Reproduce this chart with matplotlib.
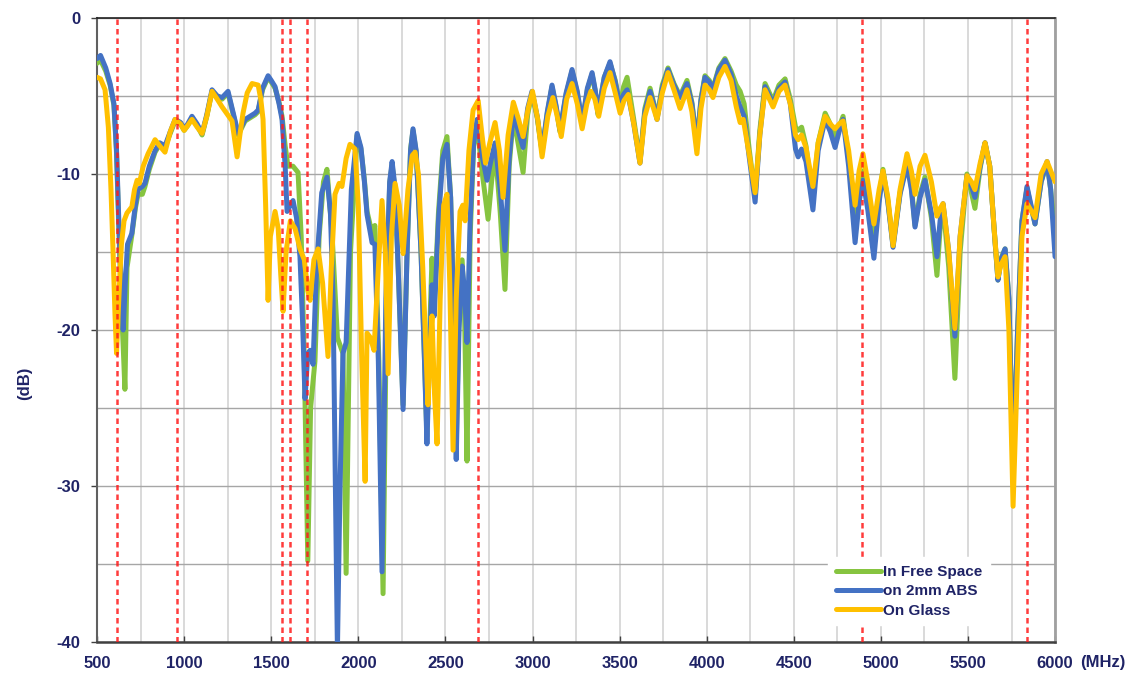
import matplotlib
matplotlib.use("Agg")
import matplotlib.pyplot as plt

plt.rcParams['font.family'] = ['Liberation Sans', 'DejaVu Sans']
plt.rcParams['axes.unicode_minus'] = False

# on 2mm ABS (blue)
f_abs = [500, 520, 550, 575, 597, 612, 625, 640, 650, 662, 675, 700, 720, 735, 760, 775, 800, 833, 860, 890,
         920, 948, 980, 1000, 1020, 1045, 1075, 1103, 1130, 1160, 1190, 1218, 1252, 1280, 1310, 1350, 1407, 1425, 1450, 1482,
         1500, 1522, 1545, 1562, 1580, 1591, 1610, 1625, 1645, 1665, 1680, 1694, 1710, 1723, 1740, 1760, 1790, 1820, 1840, 1855,
         1868, 1880, 1895, 1912, 1930, 1960, 1993, 2015, 2035, 2050, 2079, 2095, 2115, 2136, 2158, 2180, 2194, 2212, 2232, 2257,
         2280, 2300, 2314, 2332, 2360, 2380, 2394, 2410, 2423, 2436, 2460, 2485, 2509, 2530, 2550, 2562, 2578, 2596, 2610, 2624,
         2642, 2662, 2682, 2710, 2739, 2760, 2785, 2815, 2842, 2866, 2890, 2920, 2946, 2972, 2997, 3027, 3055, 3085, 3112, 3135,
         3158, 3193, 3227, 3257, 3285, 3315, 3342, 3360, 3376, 3412, 3445, 3475, 3503, 3523, 3543, 3580, 3617, 3645, 3675, 3695,
         3715, 3745, 3778, 3812, 3847, 3887, 3915, 3944, 3967, 3990, 4015, 4036, 4070, 4105, 4140, 4170, 4192, 4215, 4245, 4278,
         4305, 4335, 4360, 4381, 4415, 4450, 4480, 4510, 4525, 4545, 4570, 4610, 4640, 4680, 4710, 4737, 4760, 4783, 4815, 4852,
         4875, 4897, 4925, 4960, 4990, 5012, 5040, 5070, 5110, 5150, 5175, 5196, 5225, 5253, 5290, 5322, 5340, 5357, 5390, 5425,
         5455, 5494, 5520, 5540, 5570, 5598, 5625, 5650, 5672, 5690, 5713, 5735, 5759, 5785, 5810, 5839, 5860, 5885, 5920, 5954,
         5975, 6000]
db_abs = [-2.6, -2.4, -3.2, -4.2, -5.5, -8.5, -13, -17.5, -20.0, -17, -14.5, -13.8, -12, -11.0, -10.8, -10.6, -9.5, -8.5, -8.0, -8.2,
          -7.3, -6.5, -6.7, -7.1, -6.8, -6.3, -6.8, -7.4, -6.2, -4.6, -5.0, -5.1, -4.7, -6.0, -7.4, -6.5, -6.1, -5.9, -4.5, -3.7,
          -4.0, -4.4, -5.5, -6.5, -9.5, -12.4, -12.0, -11.7, -12.8, -15.3, -19.5, -24.4, -21.5, -21.3, -22.2, -16, -11.2, -10.2, -12.5, -18,
          -30, -40.5, -30, -21.5, -20.8, -11, -7.4, -8.3, -10.5, -12.6, -14.4, -14.5, -22, -35.5, -18, -10.5, -9.2, -11, -17, -25.1,
          -15, -8.5, -7.1, -8.5, -15, -22, -27.3, -21, -17.1, -19.1, -13, -9, -8.1, -11.5, -20, -28.3, -20, -15.9, -17.5, -20.8,
          -13, -8, -6.5, -8.8, -10.4, -9.2, -8.0, -11, -14.9, -9, -6.1, -7.3, -8.3, -5.8, -4.7, -6.3, -8.5, -6, -4.3, -5.6,
          -7.2, -4.8, -3.3, -4.7, -6.7, -4.5, -3.5, -4.6, -6.1, -3.8, -2.8, -4.1, -5.7, -4.9, -4.6, -6.7, -9.3, -6.0, -4.7, -5.5,
          -6.5, -4.5, -3.3, -4.3, -5.1, -4.2, -5.5, -8.1, -5.3, -3.8, -4.1, -4.6, -3.3, -2.7, -3.6, -5.0, -5.7, -6.3, -9, -11.8,
          -7.5, -4.4, -5.0, -5.5, -4.5, -4.1, -5.5, -8.4, -8.9, -8.4, -9.2, -12.3, -8.5, -6.5, -7.3, -8.3, -7.3, -6.5, -9.5, -14.4,
          -11.8, -10.4, -12.3, -15.4, -11.8, -9.9, -11.8, -14.7, -11.3, -9.4, -11.0, -13.4, -11.5, -10.4, -12.5, -15.3, -13.0, -11.9, -15, -20.4,
          -14, -10.1, -10.8, -11.5, -9.5, -8.0, -9.5, -13.5, -16.8, -15.5, -14.8, -18, -29, -20, -13, -10.8, -11.9, -13.2, -10.5, -9.2,
          -11, -15.3]

# In Free Space (green)
f_free = [500, 520, 550, 575, 597, 612, 625, 640, 650, 660, 672, 700, 720, 735, 760, 775, 800, 833, 860, 890,
          920, 948, 980, 1000, 1020, 1045, 1075, 1103, 1130, 1160, 1190, 1218, 1252, 1280, 1310, 1350, 1407, 1425, 1450, 1482,
          1500, 1522, 1545, 1562, 1580, 1596, 1625, 1654, 1672, 1690, 1710, 1726, 1751, 1775, 1800, 1820, 1850, 1880, 1912, 1930,
          1955, 1993, 2015, 2035, 2050, 2079, 2095, 2118, 2142, 2162, 2180, 2194, 2212, 2232, 2257, 2280, 2300, 2314, 2332, 2360,
          2380, 2394, 2410, 2423, 2436, 2460, 2485, 2509, 2530, 2550, 2562, 2578, 2596, 2610, 2624, 2642, 2662, 2682, 2710, 2745,
          2765, 2785, 2815, 2842, 2866, 2890, 2920, 2946, 2972, 2997, 3027, 3055, 3085, 3112, 3135, 3158, 3193, 3227, 3257, 3285,
          3315, 3342, 3360, 3376, 3412, 3445, 3475, 3503, 3523, 3543, 3580, 3617, 3645, 3675, 3695, 3715, 3745, 3778, 3812, 3847,
          3887, 3915, 3944, 3967, 3990, 4015, 4036, 4070, 4105, 4140, 4170, 4192, 4215, 4245, 4278, 4305, 4335, 4360, 4381, 4415,
          4450, 4480, 4510, 4525, 4545, 4570, 4610, 4640, 4680, 4710, 4737, 4760, 4783, 4815, 4852, 4875, 4897, 4925, 4960, 4990,
          5012, 5040, 5070, 5110, 5150, 5175, 5196, 5225, 5253, 5290, 5322, 5340, 5357, 5390, 5425, 5455, 5494, 5520, 5540, 5570,
          5598, 5625, 5650, 5672, 5690, 5713, 5735, 5759, 5785, 5810, 5839, 5860, 5885, 5920, 5954, 5975, 6000]
db_free = [-2.9, -2.7, -3.4, -4.3, -5.6, -8.7, -13.5, -18.5, -21, -23.8, -16, -13.9, -12.2, -11.3, -11.3, -10.8, -9.7, -8.6, -8.1, -8.3,
           -7.4, -6.6, -6.8, -7.2, -6.9, -6.4, -6.9, -7.5, -6.3, -4.7, -5.0, -5.2, -4.8, -6.1, -7.5, -6.6, -6.2, -6.0, -4.6, -3.8,
           -4.1, -4.5, -5.4, -6.3, -8.2, -9.5, -9.5, -9.9, -14, -22, -34.8, -25, -22.0, -14, -10.5, -9.7, -14, -20.5, -21.5, -35.6,
           -15, -7.5, -8.4, -10.4, -12.4, -13.8, -13.3, -22, -36.9, -18, -10.6, -9.4, -11.2, -17, -24.8, -15, -8.4, -7.2, -8.6, -15,
           -22, -26.8, -20, -15.4, -18.5, -12.5, -8.5, -7.6, -11.5, -20, -27.5, -19, -15.5, -19, -28.4, -14, -8.2, -6.8, -9.8, -12.9,
           -10.5, -8.3, -12.5, -17.4, -9.5, -6.3, -8.2, -9.9, -6.2, -4.8, -6.4, -8.6, -6.1, -4.4, -5.7, -7.3, -4.9, -3.4, -4.8, -6.8,
           -4.6, -3.6, -4.7, -6.2, -3.8, -2.9, -4.0, -5.6, -4.4, -3.8, -6.4, -9.2, -5.8, -4.5, -5.4, -6.4, -4.3, -3.2, -4.2, -5.0,
           -4.0, -5.4, -8.0, -5.2, -3.7, -4.0, -4.5, -3.2, -2.6, -3.4, -4.3, -4.7, -5.5, -8.5, -11.4, -7.2, -4.2, -4.8, -5.3, -4.3,
           -3.9, -5.2, -7.0, -7.2, -7.0, -8.2, -11.5, -8.0, -6.1, -6.8, -7.8, -7.0, -6.3, -9.0, -13.0, -11.0, -9.8, -11.8, -14.6, -11.5,
           -9.7, -11.7, -14.6, -11.2, -9.2, -10.8, -13.3, -11.3, -10.2, -12.8, -16.5, -13.5, -12.0, -16, -23.1, -15, -10.0, -11.2, -12.2, -9.6,
           -8.0, -9.5, -13.5, -16.8, -15.4, -14.8, -18, -28.5, -20, -13, -10.9, -12.0, -13.2, -10.5, -9.3, -11, -14.0]

# On Glass (yellow)
f_glass = [500, 520, 546, 565, 580, 592, 603, 612, 625, 640, 655, 672, 700, 715, 730, 743, 765, 793, 833, 860,
           890, 920, 948, 980, 1000, 1020, 1045, 1075, 1103, 1130, 1160, 1190, 1218, 1250, 1275, 1304, 1320, 1338, 1362, 1390,
           1425, 1440, 1453, 1468, 1482, 1495, 1522, 1540, 1555, 1568, 1585, 1610, 1637, 1665, 1690, 1710, 1723, 1745, 1769, 1795,
           1826, 1845, 1866, 1890, 1906, 1930, 1952, 1981, 2000, 2020, 2039, 2050, 2070, 2090, 2115, 2136, 2155, 2171, 2190, 2211,
           2235, 2257, 2285, 2310, 2326, 2345, 2370, 2400, 2412, 2423, 2437, 2452, 2470, 2490, 2509, 2525, 2544, 2562, 2584, 2600,
           2613, 2635, 2659, 2688, 2710, 2730, 2755, 2785, 2810, 2831, 2860, 2890, 2920, 2946, 2975, 3000, 3030, 3055, 3088, 3117,
           3140, 3165, 3196, 3227, 3257, 3285, 3312, 3335, 3358, 3380, 3412, 3445, 3475, 3503, 3525, 3550, 3585, 3617, 3645, 3675,
           3695, 3715, 3745, 3778, 3812, 3847, 3887, 3915, 3944, 3967, 3990, 4015, 4036, 4070, 4105, 4140, 4170, 4192, 4210, 4245,
           4278, 4305, 4335, 4360, 4381, 4415, 4450, 4480, 4510, 4525, 4545, 4570, 4610, 4640, 4680, 4710, 4737, 4760, 4783, 4815,
           4852, 4875, 4897, 4925, 4960, 4990, 5012, 5040, 5070, 5110, 5150, 5175, 5196, 5225, 5253, 5290, 5322, 5340, 5357, 5390,
           5425, 5455, 5494, 5520, 5540, 5570, 5598, 5625, 5650, 5672, 5690, 5713, 5735, 5759, 5785, 5810, 5839, 5860, 5885, 5920,
           5954, 5975, 6000]
db_glass = [-3.8, -3.9, -4.6, -7, -11, -15, -19, -21.5, -18, -14.5, -13, -12.5, -12.1, -11, -10.4, -10.6, -9.5, -8.7, -7.8, -8.2,
            -8.6, -7.3, -6.5, -6.8, -7.2, -6.9, -6.5, -7.0, -7.4, -6.3, -4.7, -5.2, -5.7, -6.2, -6.6, -8.9, -7.5, -6.1, -4.8, -4.2,
            -4.3, -5.2, -6.5, -12, -18.1, -14, -12.4, -13.5, -16.5, -18.8, -15, -13, -13.5, -14.8, -15.5, -17.5, -18.1, -15.5, -14.8, -17,
            -21.7, -16, -11.3, -10.6, -10.8, -9, -8.1, -8.4, -12, -22, -29.7, -20.2, -20.5, -21.3, -16, -11.7, -15, -22.8, -14, -10.6,
            -12, -15.1, -11, -8.8, -8.6, -10, -16, -24.8, -21, -19.1, -24, -27.3, -18, -12, -11.3, -17, -27.7, -18, -12.4, -12,
            -13, -8.5, -5.9, -5.3, -7.5, -9.3, -8, -6.7, -8.5, -11.5, -7.5, -5.4, -6.5, -7.6, -5.8, -4.7, -6.5, -8.9, -6.3, -5.1,
            -6.2, -7.6, -5.2, -4.2, -5.5, -7.1, -5.5, -4.7, -5.2, -6.3, -4.5, -3.5, -4.8, -6.1, -5.3, -4.9, -7.0, -9.3, -6.3, -5.1,
            -5.8, -6.5, -4.8, -3.5, -4.6, -5.8, -4.6, -6, -8.7, -5.8, -4.3, -4.6, -5.1, -3.8, -3.1, -4.0, -5.7, -6.7, -6.5, -8.8,
            -11.2, -7.5, -4.6, -5.2, -5.7, -4.7, -4.3, -5.5, -7.5, -7.8, -7.5, -8.3, -10.8, -8, -6.3, -6.8, -7.1, -6.8, -6.6, -8.5,
            -12.0, -9.8, -8.7, -10.5, -13.2, -11, -9.8, -11.5, -14.6, -11, -8.7, -9.8, -11.3, -9.5, -8.8, -10.5, -12.7, -12.2, -11.9, -15,
            -19.9, -14, -10.1, -10.5, -11.0, -9.3, -8.0, -9.5, -13.5, -16.6, -15.8, -15.3, -20, -31.3, -22, -14, -11.9, -12.3, -12.8, -10,
            -9.2, -9.8, -10.5]

# band edges (red dashed)
band_edges = [613, 958, 1560, 1608, 1705, 2688, 4890, 5838]

x_ticks = list(range(500, 6001, 500))
y_ticks = [-40, -30, -20, -10, 0]

label_color = '#1f2366'

fig = plt.figure(figsize=(11.39, 6.8), dpi=100)
ax = fig.add_axes([0.0852, 0.0559, 0.8411, 0.9176])

ax.plot(f_free, db_free, color='#86c440', lw=3.6, label='In Free Space', zorder=3,
        solid_joinstyle='round', solid_capstyle='round')
ax.plot(f_abs, db_abs, color='#4472c4', lw=3.6, label='on 2mm ABS', zorder=4,
        solid_joinstyle='round', solid_capstyle='round')
ax.plot(f_glass, db_glass, color='#ffc000', lw=3.6, label='On Glass', zorder=5,
        solid_joinstyle='round', solid_capstyle='round')

for f in band_edges:
    ax.axvline(f, color='#ff1a1a', lw=1.8, ls=(0, (2.2, 1.6)), alpha=0.85, zorder=6)

ax.set_xlim(500, 6000)
ax.set_ylim(-40, 0)
ax.set_xticks(x_ticks)
ax.set_xticks(list(range(750, 6000, 500)), minor=True)
ax.set_yticks(y_ticks)
ax.set_yticks([-35, -25, -15, -5], minor=True)

ax.grid(axis='x', which='both', color='#d9d9d9', lw=1.4, zorder=0)
ax.grid(axis='y', which='both', color='#a6a6a6', lw=1.0, zorder=0)
ax.set_axisbelow(True)

ax.tick_params(axis='x', which='major', direction='in', length=4, width=1, pad=10,
               labelsize=12, labelcolor=label_color, color='#404040')
ax.tick_params(axis='y', which='major', direction='out', length=4, width=1, pad=8,
               labelsize=12, labelcolor=label_color, color='#404040')
ax.tick_params(which='minor', length=0)
for lbl in ax.get_xticklabels() + ax.get_yticklabels():
    lbl.set_fontweight('bold')

ax.spines['top'].set_color('#202020')
ax.spines['top'].set_linewidth(1.2)
ax.spines['left'].set_color('#606060')
ax.spines['left'].set_linewidth(1.5)
ax.spines['bottom'].set_color('#404040')
ax.spines['bottom'].set_linewidth(1.8)
ax.spines['right'].set_color('#a0a0a0')
ax.spines['right'].set_linewidth(2)

fig.text(0.022, 0.437, '(dB)', rotation=90, ha='center', va='center',
         fontsize=12, fontweight='bold', color=label_color)
fig.text(0.968, 0.025, '(MHz)', ha='center', va='center',
         fontsize=12, fontweight='bold', color=label_color)

leg = ax.legend(loc='upper left', bbox_to_anchor=(0.755, 0.148), frameon=True,
                fancybox=False, handlelength=3.0, handletextpad=0.1, labelspacing=0.35,
                borderpad=0.5, fontsize=11)
leg.get_frame().set_facecolor('white')
leg.get_frame().set_edgecolor('white')
leg.get_frame().set_alpha(1)
leg.set_zorder(10)
for t in leg.get_texts():
    t.set_color(label_color)
    t.set_fontweight('bold')

fig.savefig('out.png', dpi=100, facecolor='white')
